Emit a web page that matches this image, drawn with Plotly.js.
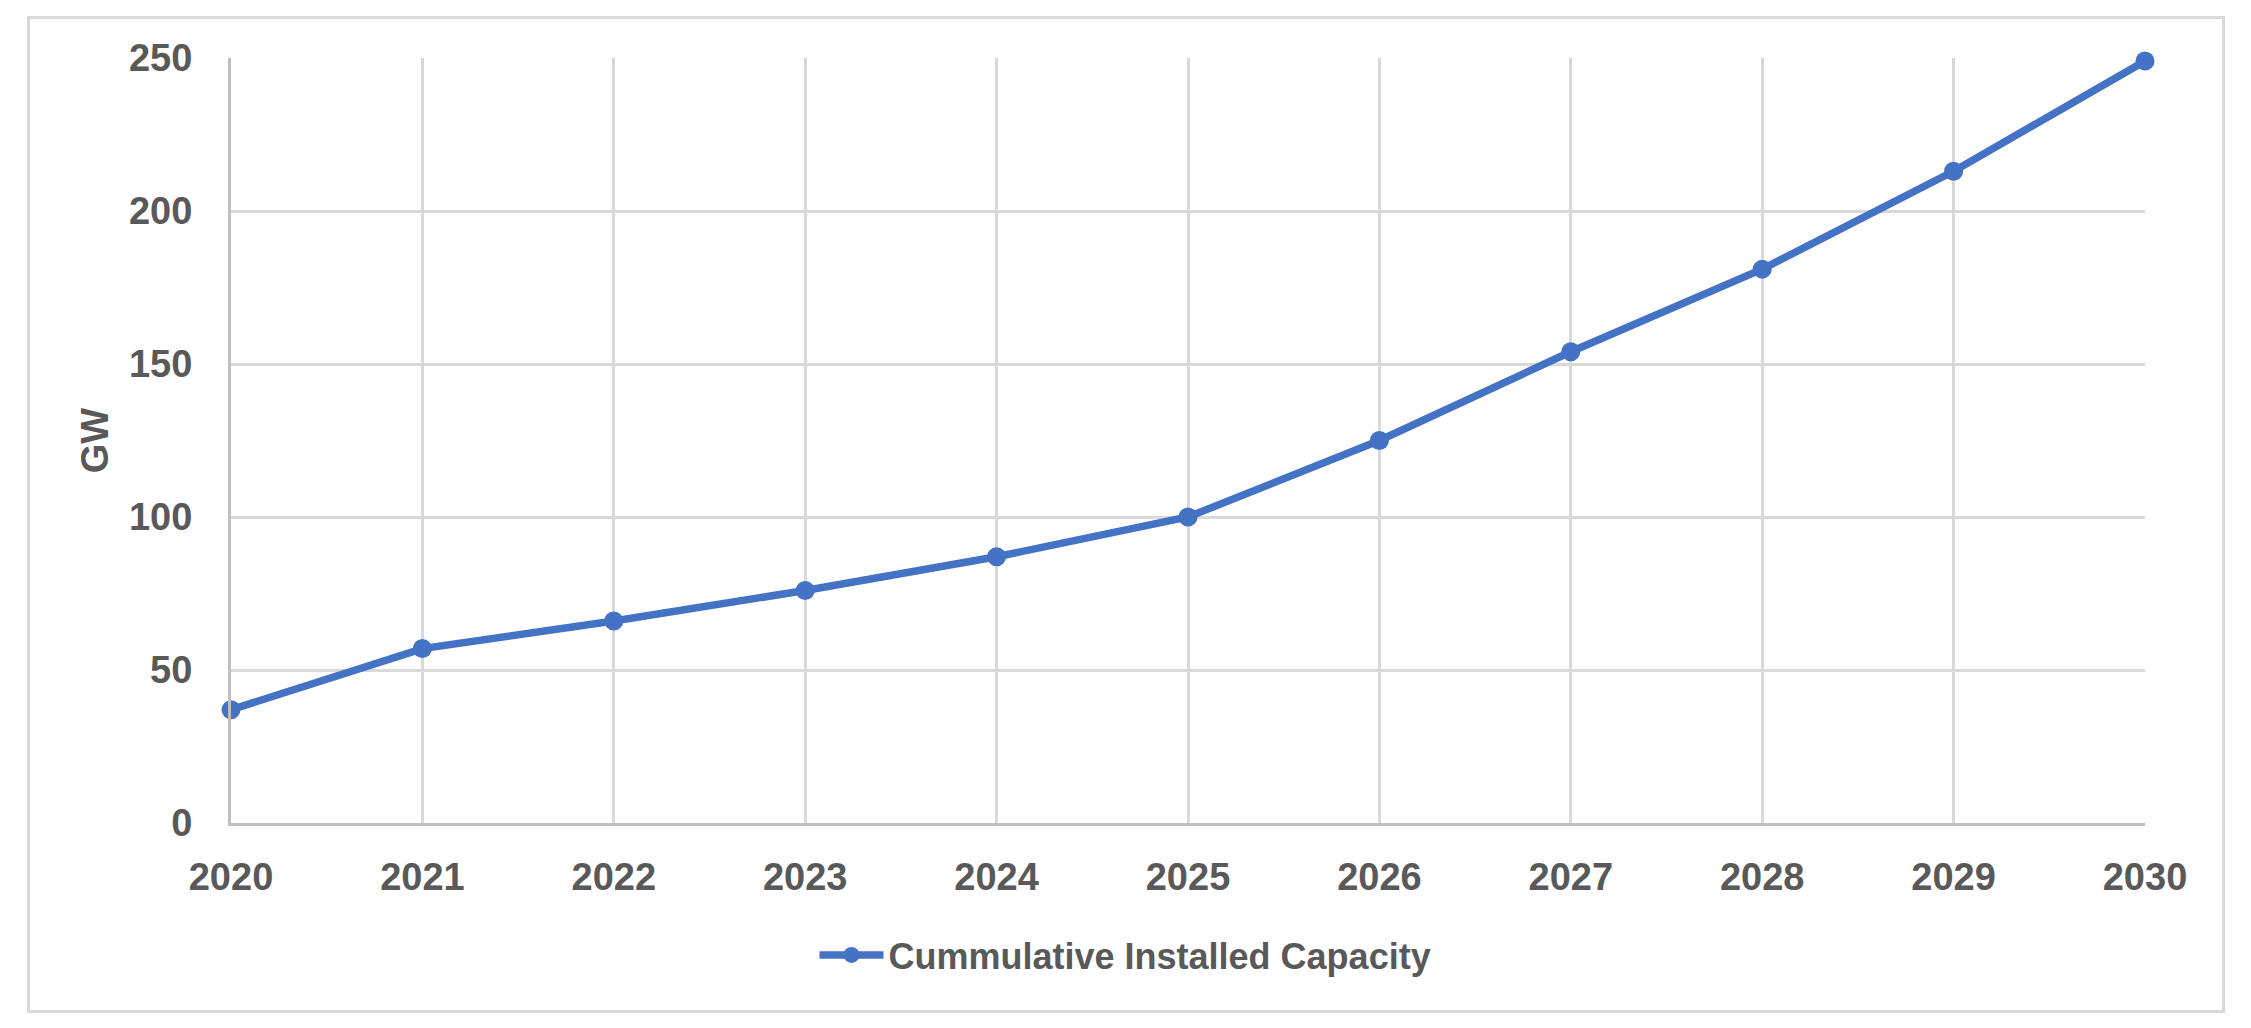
<!DOCTYPE html>
<html>
<head>
<meta charset="utf-8">
<script src="https://cdn.plot.ly/plotly-3.0.1.min.js"></script>
<style>
  html, body { margin: 0; padding: 0; background: #ffffff; }
  #wrap { position: relative; width: 2251px; height: 1028px; }
  #chart { position: absolute; left: 0; top: 0; width: 2251px; height: 1028px; }
  #frame { position: absolute; left: 27px; top: 16px; width: 2192px; height: 991px;
           border: 3px solid #d9d9d9; pointer-events: none; }
</style>
</head>
<body>
<div id="wrap">
  <div id="chart"></div>
  <div id="frame"></div>
</div>
<script>
const years = [2020, 2021, 2022, 2023, 2024, 2025, 2026, 2027, 2028, 2029, 2030];
const capacityGW = [37, 57, 66, 76, 87, 100, 125, 154, 181, 213, 249];
const seriesName = 'Cummulative Installed Capacity';
const yTitle = 'GW';

const textColor = '#595959';
const fontFamily = 'Liberation Sans, Arial, sans-serif';

const trace = {
  x: years,
  y: capacityGW,
  name: seriesName,
  type: 'scatter',
  mode: 'lines+markers',
  line: { color: '#4472C4', width: 7.5 },
  marker: { color: '#4472C4', size: 19 },
  cliponaxis: false,
  showlegend: true
};

const layout = {
  width: 2251,
  height: 1028,
  margin: { l: 231, r: 106, t: 58, b: 205 },
  paper_bgcolor: '#ffffff',
  plot_bgcolor: '#ffffff',
  font: { family: fontFamily, color: textColor },
  showlegend: true,
  xaxis: {
    type: 'linear',
    range: [2020, 2030],
    tickmode: 'array',
    tickvals: years,
    ticktext: years.map(String),
    showgrid: true,
    gridcolor: '#d9d9d9',
    gridwidth: 3,
    showline: true,
    linecolor: '#bfbfbf',
    linewidth: 3,
    zeroline: false,
    ticks: '',
    ticklabelstandoff: 18,
    tickfont: { family: fontFamily, size: 38, color: textColor, weight: 'bold' },
    fixedrange: true
  },
  yaxis: {
    range: [0, 250],
    tickmode: 'linear',
    tick0: 0,
    dtick: 50,
    showgrid: true,
    gridcolor: '#d9d9d9',
    gridwidth: 3,
    showline: true,
    linecolor: '#bfbfbf',
    linewidth: 3,
    zeroline: false,
    ticks: '',
    ticklabelstandoff: 28,
    tickfont: { family: fontFamily, size: 38, color: textColor, weight: 'bold' },
    title: {
      text: yTitle,
      standoff: 9,
      font: { family: fontFamily, size: 38, color: textColor, weight: 'bold' }
    },
    automargin: false,
    fixedrange: true
  },
  legend: {
    orientation: 'h',
    xref: 'container',
    yref: 'container',
    x: 0.5,
    xanchor: 'center',
    y: 0.071,
    yanchor: 'middle',
    itemwidth: 64,
    font: { family: fontFamily, size: 36, color: textColor, weight: 'bold' },
    bgcolor: 'rgba(0,0,0,0)'
  }
};

Plotly.newPlot('chart', [trace], layout, { displayModeBar: false, staticPlot: true });
</script>
</body>
</html>
